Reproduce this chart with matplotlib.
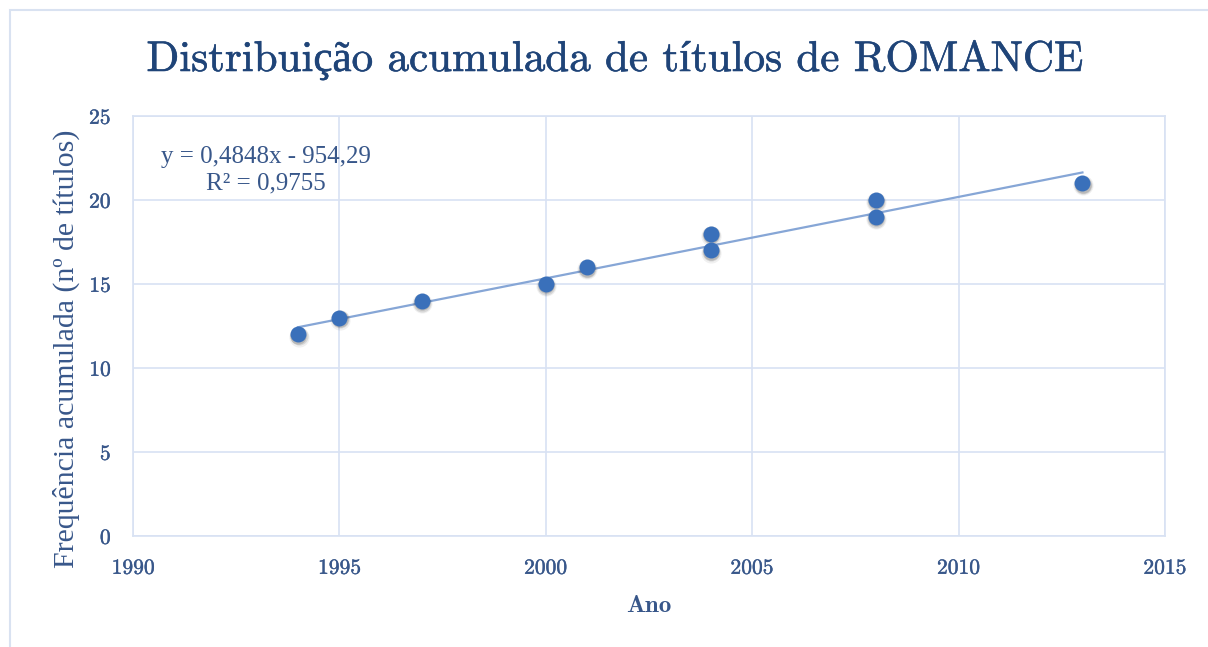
import numpy as np
import matplotlib
matplotlib.use("Agg")
import matplotlib.pyplot as plt
import matplotlib.transforms as mtransforms
import matplotlib.patheffects as pe
from matplotlib.patches import Rectangle

# Data
years = [1994, 1995, 1997, 2000, 2001, 2004, 2004, 2008, 2008, 2013]
cumulative = [12, 13, 14, 15, 16, 17, 18, 19, 20, 21]
x_ticks = [1990, 1995, 2000, 2005, 2010, 2015]
y_ticks = [0, 5, 10, 15, 20, 25]
title = "Distribuição acumulada de títulos de ROMANCE"
xlabel = "Ano"
ylabel = "Frequência acumulada (nº de títulos)"
eq_text = "y = 0,4848x - 954,29\nR² = 0,9755"

cm = ["cmr10", "Liberation Serif"]
cmb = ["cmb10", "Liberation Serif"]
lib = ["Liberation Serif", "DejaVu Serif"]
txt_col = "#38578A"
title_col = "#1F4478"
grid_col = "#D8E2F3"
pt_col = "#3A70BA"
trend_col = "#86A6D6"

fig = plt.figure(figsize=(12.08, 6.47), dpi=100)
fig.patch.set_facecolor("white")
# outer chart border
fig.add_artist(Rectangle((10 / 1208, -0.01), 1.2, (647 - 10) / 647 + 0.01,
                         transform=fig.transFigure, fill=False,
                         edgecolor="#D9E2F1", linewidth=1.5))

ax = fig.add_axes([133 / 1208, 1 - 536 / 647, (1165 - 133) / 1208, (536 - 116) / 647])
ax.set_xlim(1990, 2015)
ax.set_ylim(0, 25)
ax.set_xticks(x_ticks)
ax.set_yticks(y_ticks)
ax.grid(True, color=grid_col, linewidth=1.2)
ax.set_axisbelow(True)
for s in ax.spines.values():
    s.set_color(grid_col)
    s.set_linewidth(1.2)
ax.tick_params(length=0, colors=txt_col, labelsize=15.5)
ax.tick_params(axis="x", pad=16)
ax.tick_params(axis="y", pad=16)
for lab in ax.get_xticklabels() + ax.get_yticklabels():
    lab.set_family(cm)
    lab.set_path_effects([pe.withStroke(linewidth=0.3, foreground=txt_col)])

# trendline from least squares
coef = np.polyfit(years, cumulative, 1)
xt = np.array([min(years), max(years)])
ax.plot(xt, np.polyval(coef, xt), color=trend_col, linewidth=1.6, zorder=2)

# soft shadow then points
for dx, dy, ms, a in [(0.3, -1.6, 14.5, 0.06), (0.3, -1.3, 13.0, 0.10), (0.2, -1.0, 11.8, 0.14)]:
    sh = mtransforms.offset_copy(ax.transData, fig=fig, x=dx, y=dy, units="points")
    ax.plot(years, cumulative, "o", markersize=ms, color="#000000", alpha=a,
            markeredgewidth=0, transform=sh, zorder=3)
ax.plot(years, cumulative, "o", markersize=11.5, color=pt_col,
        markeredgewidth=0, zorder=4)

ax.text(266 / 1208, 1 - 170 / 647, eq_text, transform=fig.transFigure, ha="center", va="center",
        fontsize=18, color=txt_col, family=lib, linespacing=1.25, multialignment="center")

fig.text(615 / 1208, 1 - 60 / 647, title, ha="center", va="center", fontsize=31,
         color=title_col, family=cm,
         path_effects=[pe.withStroke(linewidth=0.4, foreground=title_col)])
fig.text(649 / 1208, 1 - 606 / 647, xlabel, ha="center", va="center", fontsize=18,
         color=txt_col, family=cmb, fontweight="bold")
fig.text(66 / 1208, 1 - 349 / 647, ylabel, ha="center", va="center", fontsize=21.5,
         color=txt_col, family=lib, rotation=90)

fig.savefig("out.png", dpi=100, facecolor="white")
